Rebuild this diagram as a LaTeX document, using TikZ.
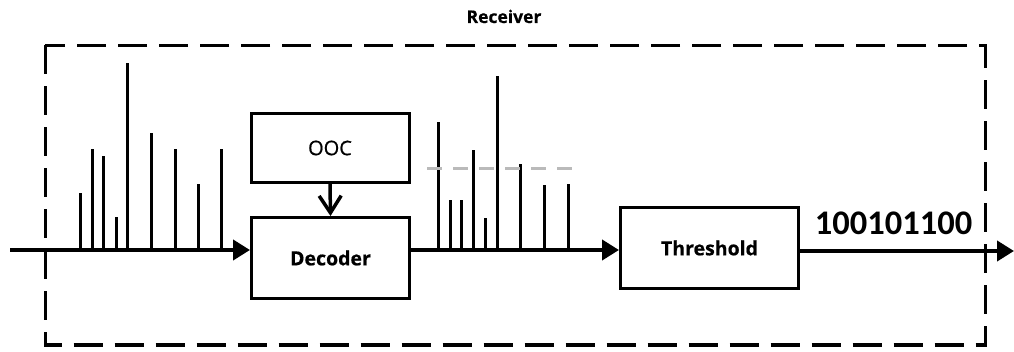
\documentclass[tikz,border=0pt]{standalone}
\usepackage{fontspec}
\setmainfont{Open Sans}
\newfontfamily\bitsfont{Carlito}
\newfontfamily\heavyfont[FakeBold=0.6]{Open Sans}
\newfontfamily\plainfont[FakeBold=0.7]{Open Sans}
\usetikzlibrary{arrows.meta}

\tikzset{
  blockbox/.style={draw, line width=3pt, inner sep=0pt, fill=white},
  signal/.style={line width=4pt},
  spike/.style={line width=3pt},
  bigtip/.style={-{Triangle[length=17pt,width=20pt]}},
  frame/.style={line width=3pt, dash pattern=on 29pt off 12pt},
  level/.style={line width=3pt, color=black!27, dash pattern=on 15pt off 11pt},
  lbl/.style={font=\heavyfont\bfseries\fontsize{19.5}{22}\selectfont},
}

\begin{document}
\begin{tikzpicture}[x=1pt, y=-1pt]
  \useasboundingbox (0,0) rectangle (1014,352);

  % receiver enclosure
  \draw[frame] (45,45.5) rectangle (985.5,345);
  \node[anchor=base, font=\heavyfont\bfseries\fontsize{17.5}{20}\selectfont] (recv) at (504,23) {Receiver};

  % processing blocks
  \node[blockbox, minimum width=158pt, minimum height=69pt,
        font=\plainfont\fontsize{20}{22}\selectfont] (ooc) at (330,148) {OOC};
  \node[blockbox, lbl, minimum width=158pt, minimum height=81pt] (dec) at (330.5,258) {Decoder};
  \node[blockbox, lbl, minimum width=178pt, minimum height=81pt] (thr) at (709.5,248) {Threshold};

  % signal path
  \coordinate (in) at (10,250);
  \coordinate (out) at (1014,251);
  \draw[signal, bigtip] (in) -- (in -| dec.west);
  \draw[signal, bigtip] (dec.east |- in) -- (thr.west |- in);
  \draw[signal, bigtip] (thr.east |- out) -- (out);
  \draw[line width=3.5pt, -{Straight Barb[length=17pt,width=22pt,line width=3.5pt]}]
    (ooc.south) -- (dec.north);

  % received pulse train
  \foreach \x/\t in {80/193, 92/149, 103/156, 116/217, 127/63,
                     151/133, 175/149, 198/184, 221/149}
    \draw[spike] (\x,250) -- (\x,\t);

  % decoded pulse train
  \foreach \x/\t in {438/122, 450/200, 461/200, 473/150, 485/218,
                     497/76, 520/164, 544/185, 568/184}
    \draw[spike] (\x,250) -- (\x,\t);

  % decision level
  \draw[level] (427,169) -- (575,169);

  % recovered bits
  \node[anchor=base, font=\bitsfont\bfseries\fontsize{34.5}{36}\selectfont] (bits) at (893.5,235) {100101100};
\end{tikzpicture}
\end{document}
